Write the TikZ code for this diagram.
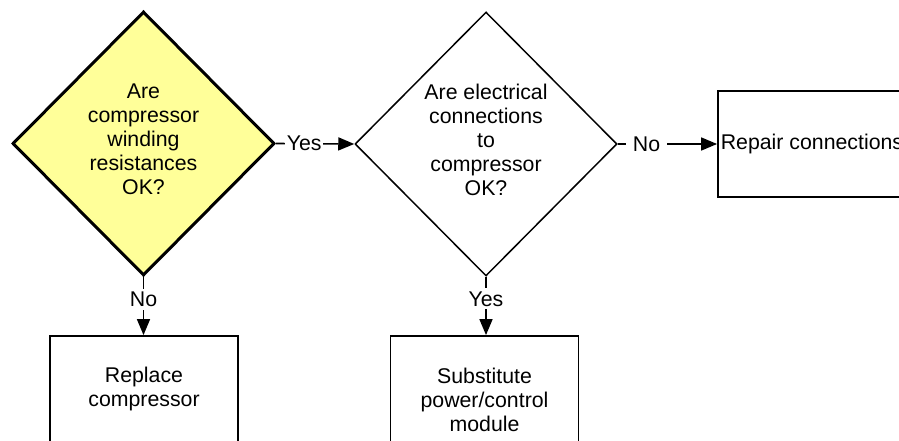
\documentclass[tikz,border=0pt]{standalone}
\usepackage{fontspec}
\setmainfont{Liberation Sans}
\usetikzlibrary{shapes.geometric,arrows.meta}
\definecolor{dyellow}{HTML}{FFFF99}
\begin{document}
\begin{tikzpicture}[x=1pt,y=-1pt,
  every node/.style={font=\fontsize{21.3}{24}\selectfont},
  decision/.style={diamond,draw,inner sep=0pt,minimum width=262pt,minimum height=264pt,line width=1.5pt},
  dtext/.style={align=center,inner sep=0pt},
  actbox/.style={rectangle,draw,line width=1.8pt,align=center,minimum width=188pt,inner sep=0pt},
  conn/.style={line width=1.6pt,-{Triangle[length=16pt,width=13pt]}},
  lbl/.style={fill=white,inner ysep=1pt}
]
\useasboundingbox (0,0) rectangle (899,441);
\node[decision,fill=dyellow,line width=3pt] (d1) at (143.5,143.5) {};
\node[dtext] (t1) at ([yshift=4pt]d1.center) {Are\\compressor\\winding\\resistances\\OK?};
\node[decision] (d2) at (486,144) {};
\node[dtext] (t2) at ([yshift=4pt]d2.center) {Are electrical\\connections\\to\\compressor\\OK?};
\node[actbox,minimum height=106pt] (rep) at (812,144) {Repair connections};
\node[actbox,minimum height=106pt] (repl) at (144,389) {Replace\\compressor};
\node[actbox,minimum height=128pt] (sub) at (484.5,400) {Substitute\\power/control\\module};
\draw[conn] (d1.east) -- node[lbl,pos=0.36,inner xsep=1.5pt] {Yes} (d2.west);
\draw[conn] (d2.east) -- node[lbl,pos=0.29,inner xsep=7pt] {No} (rep.west);
\draw[conn] (d1.south) -- node[lbl,pos=0.38,inner ysep=3pt,inner xsep=1pt] {No} (repl.north -| d1.south);
\draw[conn] (d2.south) -- node[lbl,pos=0.38,inner ysep=3pt,inner xsep=1pt] {Yes} (sub.north -| d2.south);
\end{tikzpicture}
\end{document}
